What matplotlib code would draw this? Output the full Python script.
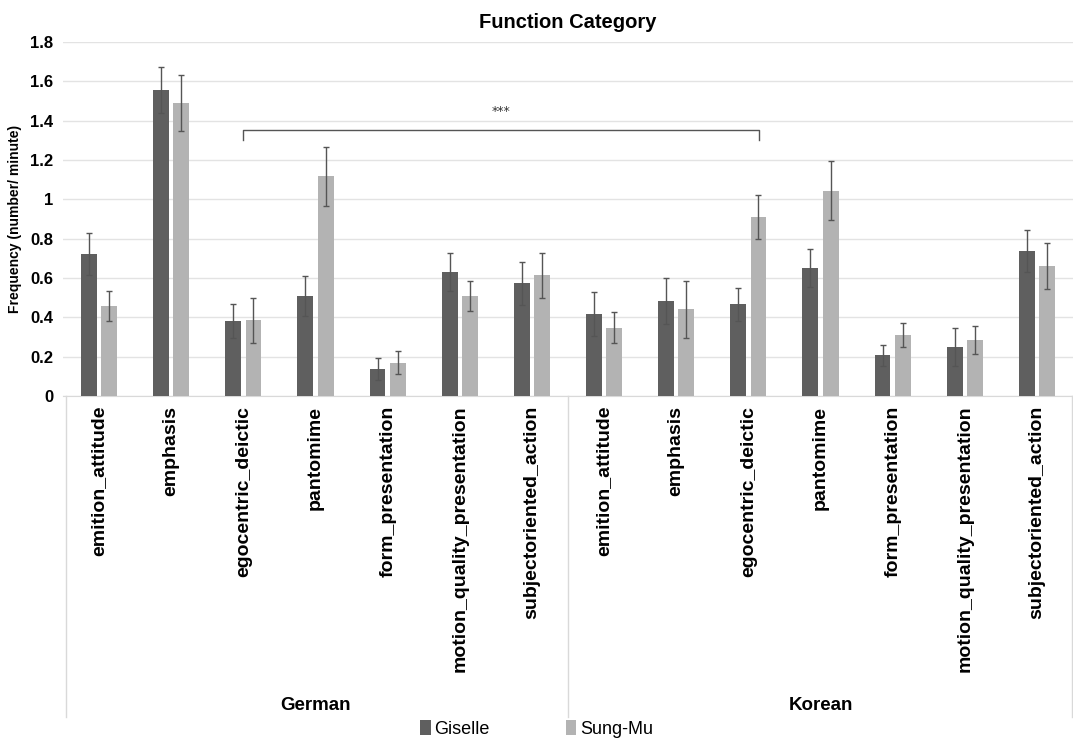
import numpy as np
import matplotlib
matplotlib.use("Agg")
import matplotlib.pyplot as plt
from matplotlib.transforms import blended_transform_factory

narrow = ["Liberation Sans Narrow", "Liberation Sans", "DejaVu Sans"]
wide = ["Liberation Sans", "DejaVu Sans"]

functions = ["emition_attitude", "emphasis", "egocentric_deictic", "pantomime",
             "form_presentation", "motion_quality_presentation", "subjectoriented_action"]
languages = ["German", "Korean"]
series = ["Giselle", "Sung-Mu"]

# German then Korean, same function order
giselle = [0.722, 1.556, 0.380, 0.510, 0.136, 0.630, 0.574,
           0.417, 0.483, 0.466, 0.652, 0.208, 0.251, 0.736]
giselle_err = [0.108, 0.115, 0.086, 0.102, 0.056, 0.095, 0.109,
               0.110, 0.118, 0.083, 0.098, 0.053, 0.096, 0.108]
sungmu = [0.458, 1.491, 0.386, 1.117, 0.169, 0.510, 0.613,
          0.347, 0.440, 0.908, 1.044, 0.310, 0.285, 0.662]
sungmu_err = [0.077, 0.143, 0.114, 0.150, 0.058, 0.076, 0.115,
              0.078, 0.146, 0.112, 0.151, 0.059, 0.071, 0.116]

colors = ["#5f5f5f", "#b3b3b3"]

fig = plt.figure(figsize=(10.73, 7.38), dpi=100)
ax = fig.add_axes([63 / 1073, 1 - 396 / 738, 1 - 63 / 1073, 354 / 738])

x = np.arange(len(giselle))
w = 0.22
ekw = dict(ecolor="#555555", elinewidth=1, capsize=2.5, capthick=1)
ax.bar(x - 0.14, giselle, w, yerr=giselle_err, color=colors[0], label=series[0],
       error_kw=ekw, zorder=3)
ax.bar(x + 0.14, sungmu, w, yerr=sungmu_err, color=colors[1], label=series[1],
       error_kw=ekw, zorder=3)

ax.set_xlim(-0.5, len(x) - 0.5)
ax.set_ylim(0, 1.8)
ax.set_yticks(np.arange(0, 1.81, 0.2))
ax.set_yticklabels(["0", "0.2", "0.4", "0.6", "0.8", "1", "1.2", "1.4", "1.6", "1.8"],
                   family=narrow, fontweight="bold", fontsize=12)
ax.grid(axis="y", color="#e3e3e3", linewidth=1, zorder=0)
for s in ["top", "right", "left"]:
    ax.spines[s].set_visible(False)
ax.spines["bottom"].set_color("#d9d9d9")
ax.tick_params(axis="y", length=0, pad=7)
ax.tick_params(axis="x", length=0, pad=7)

ax.set_xticks(x)
ax.set_xticklabels(functions * 2, rotation=90, family=wide, fontweight="bold",
                   fontsize=14, va="top", ha="center")

ax.set_ylabel("Frequency (number/ minute)", family=wide, fontweight="bold", fontsize=10,
              labelpad=6)
ax.set_title("Function Category", family=narrow, fontweight="bold", fontsize=14.5, pad=10)

# group separators and language labels
tr = blended_transform_factory(ax.transData, ax.transAxes)
for xv in [-0.46, 6.5, 13.49]:
    ax.plot([xv, xv], [0, -0.907], transform=tr, color="#d9d9d9", lw=1, clip_on=False)
for i, lang in enumerate(languages):
    ax.text(3 + 7 * i, -0.873, lang, transform=tr, ha="center", va="center",
            family=narrow, fontweight="bold", fontsize=13.5)

# significance bracket
bx0, bx1, by = 2.0, 9.15, 1.352
ax.plot([bx0, bx0, bx1, bx1], [1.30, by, by, 1.30], color="#555555", lw=1, zorder=4)
ax.text((bx0 + bx1) / 2, 1.445, "***", ha="center", va="center", fontsize=9, color="#333333")

leg = fig.legend(loc="lower center", bbox_to_anchor=(0.5, -0.022), ncol=2, frameon=False,
                 handlelength=0.6, handleheight=0.9, handletextpad=0.2, columnspacing=4.2,
                 prop=dict(family=narrow, size=13))

fig.savefig("out.png", dpi=100)
